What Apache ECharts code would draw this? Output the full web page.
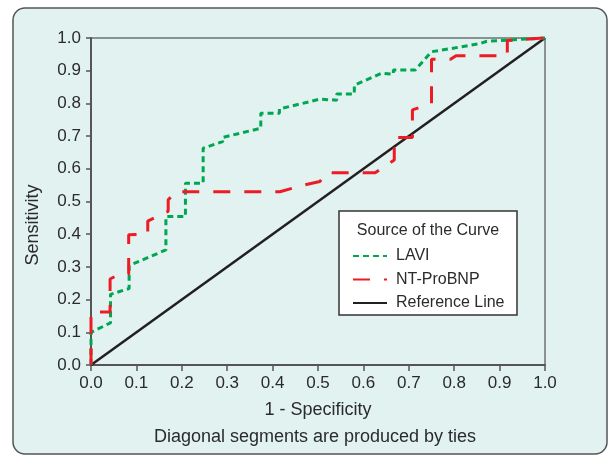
<!DOCTYPE html>
<html>
<head>
<meta charset="utf-8">
<script src="https://cdn.jsdelivr.net/npm/echarts@6/dist/echarts.min.js"></script>
<style>
html,body{margin:0;padding:0;background:#ffffff;}
#chart{width:609px;height:457px;}
</style>
</head>
<body>
<div id="chart"></div>
<script>
// ---- data ----
const xTicks = [0.0, 0.1, 0.2, 0.3, 0.4, 0.5, 0.6, 0.7, 0.8, 0.9, 1.0];
const yTicks = [0.0, 0.1, 0.2, 0.3, 0.4, 0.5, 0.6, 0.7, 0.8, 0.9, 1.0];
const seriesNames = ['LAVI', 'NT-ProBNP', 'Reference Line'];

const laviX = [0, 0, 0.043, 0.043, 0.084, 0.084, 0.165, 0.165, 0.208, 0.208, 0.247, 0.247, 0.290, 0.290, 0.374, 0.374, 0.415, 0.415, 0.460, 0.504, 0.541, 0.541, 0.580, 0.580, 0.640, 0.666, 0.666, 0.714, 0.750, 0.794, 0.857, 0.872, 1.0];
const laviY = [0, 0.100, 0.129, 0.216, 0.234, 0.304, 0.352, 0.454, 0.454, 0.556, 0.556, 0.663, 0.683, 0.696, 0.724, 0.770, 0.770, 0.783, 0.798, 0.813, 0.810, 0.829, 0.829, 0.856, 0.892, 0.889, 0.902, 0.902, 0.958, 0.968, 0.983, 0.990, 1.0];

const bnpX = [0, 0, 0.042, 0.042, 0.063, 0.083, 0.083, 0.125, 0.125, 0.163, 0.170, 0.170, 0.187, 0.416, 0.468, 0.504, 0.519, 0.626, 0.668, 0.668, 0.708, 0.708, 0.750, 0.750, 0.792, 0.804, 0.917, 0.917, 1.0];
const bnpY = [0, 0.162, 0.162, 0.263, 0.278, 0.278, 0.398, 0.400, 0.440, 0.466, 0.470, 0.505, 0.530, 0.530, 0.550, 0.561, 0.588, 0.588, 0.627, 0.696, 0.696, 0.780, 0.800, 0.935, 0.935, 0.946, 0.946, 0.992, 1.0];

const refX = [0, 1];
const refY = [0, 1];

const zip = (xs, ys) => xs.map((x, i) => [x, ys[i]]);

const FONT = '"Liberation Sans", Arial, sans-serif';
const TXT = '#2b2b2b';
const BG = '#e2f2f1';

const chart = echarts.init(document.getElementById('chart'), null, {renderer: 'canvas'});
chart.setOption({
  animation: false,
  backgroundColor: '#ffffff',
  textStyle: {fontFamily: FONT},
  graphic: [
    {type: 'rect', z: -10, silent: true,
     shape: {x: 13, y: 8, width: 594, height: 446, r: 12},
     style: {fill: BG, stroke: '#555555', lineWidth: 1.5}},
    {type: 'rect', z: 50, silent: true,
     shape: {x: 339, y: 211, width: 178, height: 104},
     style: {fill: '#ffffff', stroke: '#333333', lineWidth: 1.5}},
    {type: 'text', z: 51, silent: true, x: 428, y: 231,
     style: {text: 'Source of the Curve', font: '16px ' + FONT, fill: TXT, align: 'center', verticalAlign: 'middle'}},
    {type: 'text', z: 51, silent: true, x: 33, y: 225, rotation: Math.PI / 2,
     style: {text: 'Sensitivity', font: '18px ' + FONT, fill: TXT, align: 'center', verticalAlign: 'middle'}},
    {type: 'text', z: 51, silent: true, x: 315, y: 437,
     style: {text: 'Diagonal segments are produced by ties', font: '18px ' + FONT, fill: TXT, align: 'center', verticalAlign: 'middle'}}
  ],
  grid: {left: 91, right: 64, top: 38, bottom: 92, show: true, borderColor: '#333333', borderWidth: 1, backgroundColor: 'transparent'},
  legend: {
    orient: 'vertical', left: 352, top: 248, padding: 0, z: 52,
    itemWidth: 34, itemHeight: 14, itemGap: 7.5,
    data: seriesNames,
    itemStyle: {opacity: 0},
    textStyle: {fontSize: 16, fontFamily: FONT, color: TXT, padding: [0, 0, 0, 4]}
  },
  xAxis: {
    type: 'value', min: 0, max: 1, interval: 0.1,
    name: '1 - Specificity', nameLocation: 'middle', nameGap: 36,
    nameTextStyle: {fontSize: 18, fontFamily: FONT, color: TXT, verticalAlign: 'top'},
    axisLine: {show: true, lineStyle: {color: '#555555', width: 2}},
    axisTick: {show: true, length: 6, lineStyle: {color: '#555555', width: 1.5}},
    axisLabel: {fontSize: 17, fontFamily: FONT, color: TXT, margin: 10,
      formatter: v => { const t = xTicks.find(k => Math.abs(k - v) < 1e-6); return t === undefined ? '' : t.toFixed(1); }},
    splitLine: {show: false}
  },
  yAxis: {
    type: 'value', min: 0, max: 1, interval: 0.1,
    axisLine: {show: true, lineStyle: {color: '#555555', width: 2}},
    axisTick: {show: true, length: 5, lineStyle: {color: '#555555', width: 1.5}},
    axisLabel: {fontSize: 17, fontFamily: FONT, color: TXT, margin: 10,
      formatter: v => { const t = yTicks.find(k => Math.abs(k - v) < 1e-6); return t === undefined ? '' : t.toFixed(1); }},
    splitLine: {show: false}
  },
  series: [
    {name: seriesNames[0], type: 'line', data: zip(laviX, laviY), symbol: 'none', z: 4, clip: false,
     lineStyle: {color: '#00a651', width: 3, type: [6, 4]}, itemStyle: {color: '#00a651'}},
    {name: seriesNames[1], type: 'line', data: zip(bnpX, bnpY), symbol: 'none', z: 5, clip: false,
     lineStyle: {color: '#ed1c24', width: 3, type: [17, 14]}, itemStyle: {color: '#ed1c24'}},
    {name: seriesNames[2], type: 'line', data: zip(refX, refY), symbol: 'none', z: 3, clip: false,
     lineStyle: {color: '#231f20', width: 2.5, type: 'solid'}, itemStyle: {color: '#231f20'}}
  ]
});
</script>
</body>
</html>
